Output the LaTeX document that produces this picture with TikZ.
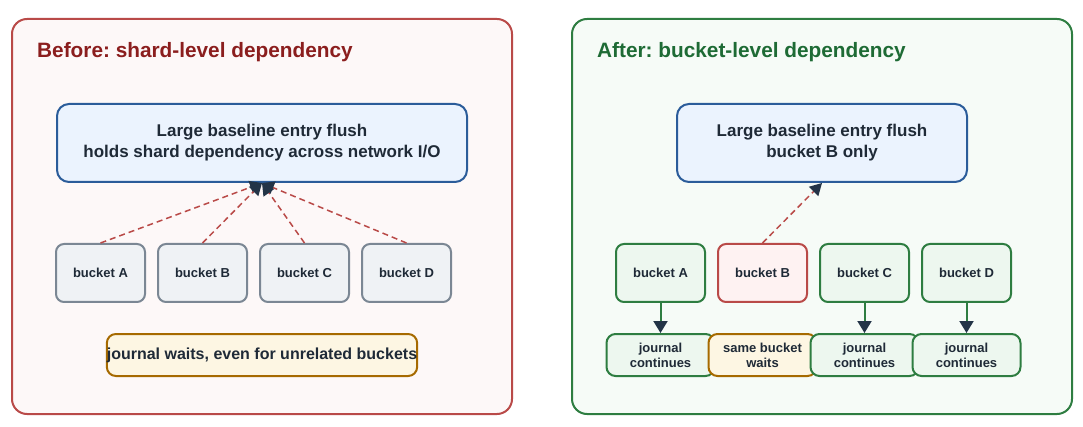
\documentclass[tikz,border=0pt]{standalone}
\usepackage{fontspec}
\setmainfont{Liberation Sans}
\usetikzlibrary{arrows.meta}
\frenchspacing

\definecolor{inkdark}{HTML}{1F2A37}
\definecolor{tipnavy}{HTML}{233447}
\definecolor{beforered}{HTML}{B94A48}
\definecolor{beforetitle}{HTML}{8B1E1E}
\definecolor{beforefill}{HTML}{FDF8F8}
\definecolor{aftergreen}{HTML}{2E7D41}
\definecolor{aftertitle}{HTML}{1E6B35}
\definecolor{afterfill}{HTML}{F6FBF7}
\definecolor{flushblue}{HTML}{2B5C9A}
\definecolor{flushfill}{HTML}{EBF3FE}
\definecolor{idlegray}{HTML}{7B8794}
\definecolor{idlefill}{HTML}{EFF2F5}
\definecolor{okfill}{HTML}{EDF7EF}
\definecolor{hotfill}{HTML}{FEF2F2}
\definecolor{waitbrown}{HTML}{A66A00}
\definecolor{waitfill}{HTML}{FDF6E3}

\tikzset{
	panel/.style={line width=2pt, rounded corners=15pt},
	paneltitle/.style={anchor=base west, inner sep=0pt, font=\bfseries\fontsize{20.8}{24}\selectfont},
	flushbox/.style={draw=flushblue, fill=flushfill, line width=2pt, rounded corners=12pt, inner sep=0pt,
		minimum height=78pt, align=center, text=inkdark, font=\bfseries\fontsize{17}{21}\selectfont},
	bucketbox/.style={line width=2pt, rounded corners=8pt, inner sep=0pt, minimum width=89pt, minimum height=58pt,
		text=inkdark, font=\bfseries\fontsize{13}{15}\selectfont},
	journalbox/.style={line width=2pt, rounded corners=9pt, inner sep=0pt, minimum width=108pt, minimum height=42pt,
		align=center, text=inkdark, font=\bfseries\fontsize{13}{15}\selectfont},
	depline/.style={draw=beforered, line width=1.5pt, dash pattern=on 6pt off 4pt,
		-{Triangle[color=tipnavy, length=12pt, width=13pt]}},
	flowline/.style={draw=aftergreen, line width=2pt, -{Triangle[color=tipnavy, length=12pt, width=14pt]}}
}

\begin{document}
\begin{tikzpicture}[x=1pt, y=-1pt]
				\useasboundingbox (0,0) rectangle (1083,427);
				
				\draw[panel, draw=beforered, fill=beforefill] (12,19) rectangle (512,414);
				\draw[panel, draw=aftergreen, fill=afterfill] (572,19) rectangle (1072,414);
				
				\node[paneltitle, text=beforetitle] (titleBefore) at (37,58) {Before: shard-level dependency};
				\node[paneltitle, text=aftertitle] (titleAfter) at (597,58) {After: bucket-level dependency};
				
				\node[flushbox, minimum width=410pt] (flushBefore) at (262,143) {Large baseline entry flush\\holds shard dependency across network I/O};
				
				\node[bucketbox, draw=idlegray, fill=idlefill] (bA) at (100.5,273) {bucket A};
				\node[bucketbox, draw=idlegray, fill=idlefill] (bB) at (202.5,273) {bucket B};
				\node[bucketbox, draw=idlegray, fill=idlefill] (bC) at (304.5,273) {bucket C};
				\node[bucketbox, draw=idlegray, fill=idlefill] (bD) at (406.5,273) {bucket D};
				
				\draw[depline] (bA.north) -- (flushBefore.south);
				\draw[depline] (bB.north) -- (flushBefore.south);
				\draw[depline] (bC.north) -- (flushBefore.south);
				\draw[depline] (bD.north) -- (flushBefore.south);
				
				\node[journalbox, draw=waitbrown, fill=waitfill, minimum width=310pt, font=\bfseries\fontsize{16}{19}\selectfont] (waitAll) at (262,355) {journal waits, even for unrelated buckets};
				
				\node[flushbox, minimum width=290pt] (flushAfter) at (822,143) {Large baseline entry flush\\bucket B only};
				
				\node[bucketbox, draw=aftergreen, fill=okfill] (aA) at (660.5,273) {bucket A};
				\node[bucketbox, draw=beforered, fill=hotfill] (aB) at (762.5,273) {bucket B};
				\node[bucketbox, draw=aftergreen, fill=okfill] (aC) at (864.5,273) {bucket C};
				\node[bucketbox, draw=aftergreen, fill=okfill] (aD) at (966.5,273) {bucket D};
				
				\draw[depline] (aB.north) -- (flushAfter.south);
				
				\node[journalbox, draw=aftergreen, fill=okfill] (jA) at (660.5,355) {journal\\continues};
				\node[journalbox, draw=waitbrown, fill=waitfill] (jB) at (762.5,355) {same bucket\\waits};
				\node[journalbox, draw=aftergreen, fill=okfill] (jC) at (864.5,355) {journal\\continues};
				\node[journalbox, draw=aftergreen, fill=okfill] (jD) at (966.5,355) {journal\\continues};
				
				\draw[flowline] (aA.south) -- (jA.north);
				\draw[flowline] (aC.south) -- (jC.north);
				\draw[flowline] (aD.south) -- (jD.north);
			\end{tikzpicture}
\end{document}
